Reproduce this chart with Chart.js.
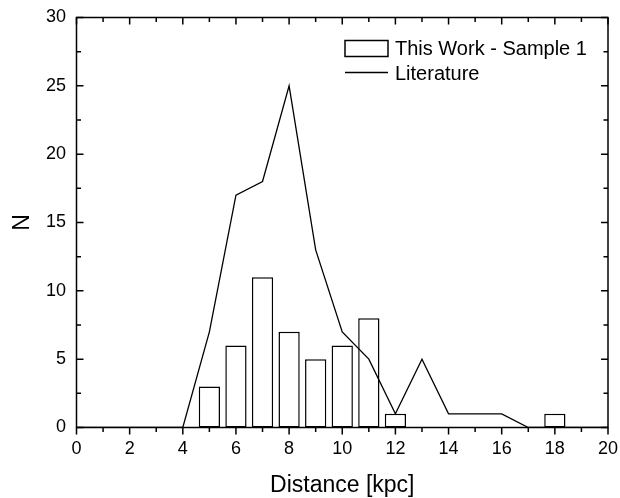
<!DOCTYPE html>
<html>
<head>
<meta charset="utf-8">
<script src="https://cdn.jsdelivr.net/npm/chart.js@4/dist/chart.umd.min.js"></script>
<style>
  html, body { margin: 0; padding: 0; background: #fff; }
  #wrap { width: 620px; height: 498px; }
</style>
</head>
<body>
<div id="wrap"><canvas id="distChart" width="620" height="498"></canvas></div>
<script>
// --- Data ---
const barDistances = [5, 6, 7, 8, 9, 10, 11, 12, 18];
const barCounts = [3, 6, 11, 7, 5, 6, 8, 1, 1];

const litDistances = [0, 1, 2, 3, 4, 5, 6, 7, 8, 9, 10, 11, 12, 13, 14, 15, 16, 17, 18, 19, 20];
const litCounts = [0, 0, 0, 0, 0, 7, 17, 18, 25, 13, 7, 5, 1, 5, 1, 1, 1, 0, 0, 0, 0];

const xTicks = [0, 2, 4, 6, 8, 10, 12, 14, 16, 18, 20];
const yTicks = [0, 5, 10, 15, 20, 25, 30];

const seriesLabels = ['This Work - Sample 1', 'Literature'];

const FONT = "Arial, 'Liberation Sans', sans-serif";

// --- Minor ticks halfway between major ones ---
function midpoints(vals) {
    const out = [];
    for (let i = 1; i < vals.length; i++) out.push((vals[i - 1] + vals[i]) / 2);
    return out;
}

// --- Frame + Origin-style tick marks ---
const frameTicks = {
    id: 'frameTicks',
    afterDatasetsDraw(chart) {
        const { ctx, chartArea: a, scales } = chart;
        const x = scales.x, y = scales.y;
        ctx.save();
        ctx.strokeStyle = '#000';
        ctx.lineWidth = 1.5;
        ctx.strokeRect(a.left, a.top, a.right - a.left, a.bottom - a.top);

        ctx.beginPath();
        const xMarks = (vals, len) => vals.forEach(v => {
            const px = x.getPixelForValue(v);
            ctx.moveTo(px, a.bottom); ctx.lineTo(px, a.bottom + len);   // bottom: outward
            ctx.moveTo(px, a.top); ctx.lineTo(px, a.top + len);         // top: inward
        });
        const yMarks = (vals, len) => vals.forEach(v => {
            const py = y.getPixelForValue(v);
            ctx.moveTo(a.left, py); ctx.lineTo(a.left + len, py);       // left: inward
            ctx.moveTo(a.right, py); ctx.lineTo(a.right - len, py);     // right: inward
        });
        xMarks(xTicks, 7);
        xMarks(midpoints(xTicks), 4.5);
        yMarks(yTicks, 7);
        yMarks(midpoints(yTicks), 4.5);
        ctx.stroke();
        ctx.restore();
    }
};

// --- Legend inside the plot, top right ---
const innerLegend = {
    id: 'innerLegend',
    afterDraw(chart) {
        const { ctx, chartArea: a } = chart;
        const bx = a.right - 263;
        ctx.save();
        ctx.strokeStyle = '#000';
        ctx.lineWidth = 1.5;
        ctx.strokeRect(bx, a.top + 23, 43, 16);
        ctx.lineWidth = 1.3;
        ctx.beginPath();
        ctx.moveTo(bx, a.top + 55);
        ctx.lineTo(bx + 43, a.top + 55);
        ctx.stroke();

        ctx.fillStyle = '#000';
        ctx.font = '20px ' + FONT;
        ctx.textAlign = 'left';
        ctx.textBaseline = 'middle';
        ctx.fillText(seriesLabels[0], bx + 50, a.top + 32);
        ctx.fillText(seriesLabels[1], bx + 50, a.top + 57);
        ctx.restore();
    }
};

const ctx = document.getElementById('distChart').getContext('2d');
new Chart(ctx, {
    type: 'bar',
    data: {
        datasets: [{
            type: 'line',
            label: seriesLabels[1],
            data: litDistances.map((d, i) => ({ x: d, y: litCounts[i] })),
            borderColor: '#000',
            borderWidth: 1.3,
            pointRadius: 0,
            tension: 0,
            fill: false,
            order: 0
        }, {
            type: 'bar',
            label: seriesLabels[0],
            data: barDistances.map((d, i) => ({ x: d, y: barCounts[i] })),
            backgroundColor: '#fff',
            borderColor: '#000',
            borderWidth: 1.5,
            borderSkipped: false,
            categoryPercentage: 1,
            barPercentage: 0.8,
            order: 1
        }]
    },
    options: {
        responsive: false,
        devicePixelRatio: 1,
        animation: false,
        layout: { padding: { top: 17.5, right: 12, left: 0, bottom: 0 } },
        plugins: {
            legend: { display: false },
            tooltip: { enabled: false }
        },
        scales: {
            x: {
                type: 'linear',
                min: 0,
                max: 20,
                offset: false,
                grid: { display: false, drawTicks: false, offset: false },
                border: { display: false },
                afterBuildTicks: s => { s.ticks = xTicks.map(v => ({ value: v })); },
                afterFit: s => {
                    s.height = 70.5;
                    s.paddingLeft = 0;
                    s.paddingRight = 0;
                },
                ticks: {
                    color: '#000',
                    padding: 11,
                    maxRotation: 0,
                    autoSkip: false,
                    font: { family: FONT, size: 18 }
                },
                title: {
                    display: true,
                    text: 'Distance [kpc]',
                    color: '#000',
                    font: { family: FONT, size: 23, lineHeight: 1 },
                    padding: { top: 0, bottom: 0.5 }
                }
            },
            y: {
                min: 0,
                max: 30,
                grid: { display: false, drawTicks: false },
                border: { display: false },
                afterBuildTicks: s => { s.ticks = yTicks.map(v => ({ value: v })); },
                afterFit: s => {
                    s.width = 76.5;
                    s.paddingTop = 0;
                    s.paddingBottom = 0;
                },
                ticks: {
                    color: '#000',
                    padding: 10.5,
                    font: { family: FONT, size: 18 }
                },
                title: {
                    display: true,
                    text: 'N',
                    color: '#000',
                    font: { family: FONT, size: 23 },
                    padding: { top: 8.5, bottom: 0 }
                }
            }
        }
    },
    plugins: [frameTicks, innerLegend]
});
</script>
</body>
</html>
